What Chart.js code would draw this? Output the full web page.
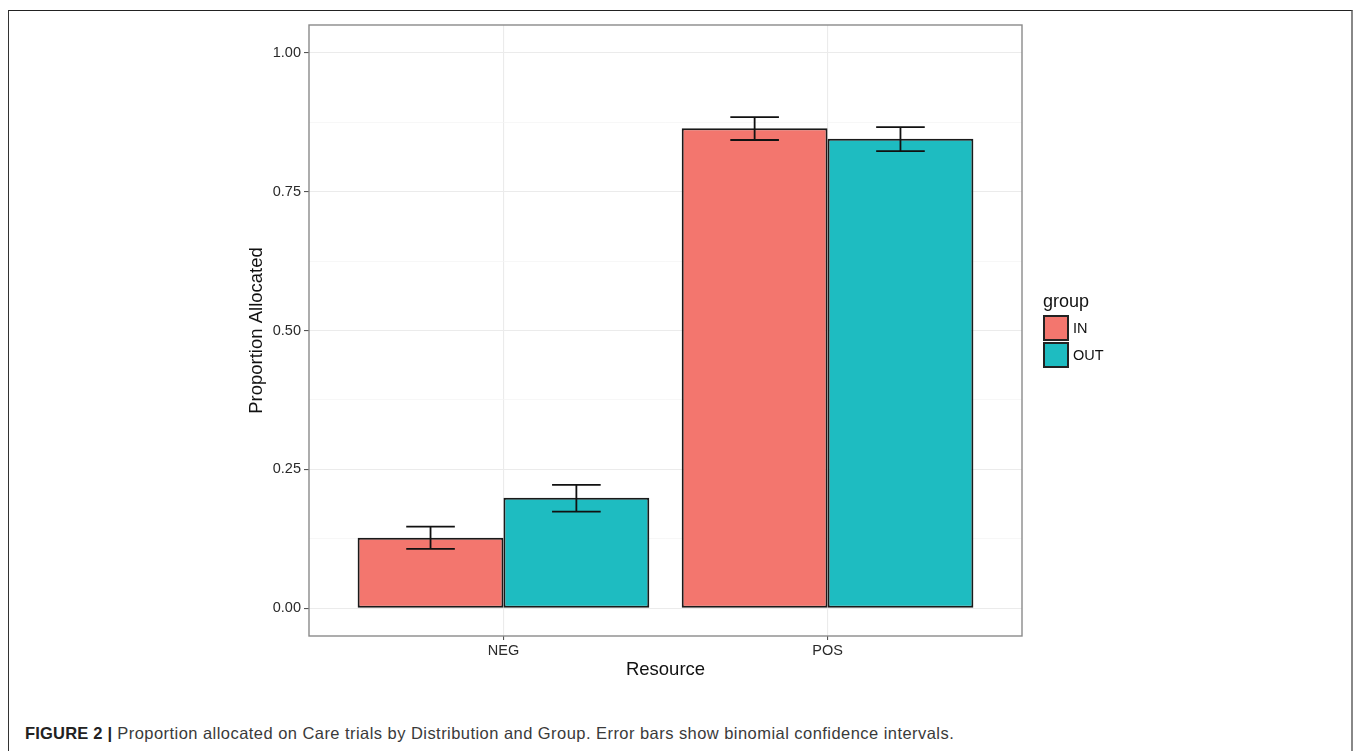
<!DOCTYPE html>
<html><head><meta charset="utf-8">
<script src="https://cdn.jsdelivr.net/npm/chart.js@4.4.0/dist/chart.umd.min.js"></script>
<style>
html,body{margin:0;padding:0;background:#fff;width:1358px;height:751px;overflow:hidden;font-family:"Liberation Sans",Arial,sans-serif;}
#frame{position:absolute;left:8px;top:10px;width:1345px;height:800px;border-top:1px solid #222;border-left:1px solid #333;border-right:2px solid #888;box-sizing:border-box;}
#wrap{position:absolute;left:0;top:0;width:1358px;height:700px;}
#legend{position:absolute;left:1043px;top:292px;color:#111;}
#legend .title{font-size:18px;line-height:18px;height:18px;margin-bottom:4px;}
#legend .item{display:flex;align-items:center;height:27px;}
#legend .key{width:26px;height:26px;box-sizing:border-box;border:2px solid #222;margin-right:4px;}
#legend .lab{font-size:14.5px;}
#caption{position:absolute;left:25px;top:725px;font-size:16.5px;line-height:16px;letter-spacing:0.45px;color:#3a3a3a;white-space:nowrap;}
#caption b{color:#222;letter-spacing:0.2px;}
</style>
</head><body>
<div id="frame"></div>
<div id="wrap"><canvas id="c" width="1358" height="700"></canvas></div>
<div id="legend"></div>
<div id="caption"><b>FIGURE 2 |</b> Proportion allocated on Care trials by Distribution and Group. Error bars show binomial confidence intervals.</div>
<script>
const categories = ['NEG', 'POS'];
const groups = ['IN', 'OUT'];
const inValues = [0.127, 0.864];
const outValues = [0.199, 0.845];
const inLower = [0.107, 0.843];
const inUpper = [0.147, 0.884];
const outLower = [0.174, 0.823];
const outUpper = [0.222, 0.866];
const yTickValues = [0, 0.125, 0.25, 0.375, 0.5, 0.625, 0.75, 0.875, 1.0];
const groupColors = ['#F3766E', '#1EBCC1'];

Chart.defaults.font.family = '"Liberation Sans", Arial, sans-serif';

const isMajor = v => Math.abs(v * 4 - Math.round(v * 4)) < 1e-6;

const errorBarPlugin = {
  id: 'errorBars',
  afterDatasetsDraw(chart) {
    const {ctx, scales: {x, y}} = chart;
    const half = Math.abs(x.getPixelForValue(1.075) - x.getPixelForValue(1));
    ctx.save();
    ctx.strokeStyle = '#111';
    ctx.lineWidth = 1.8;
    chart.data.datasets.forEach((ds, di) => {
      const meta = chart.getDatasetMeta(di);
      meta.data.forEach((bar, i) => {
        const cx = bar.x;
        const lo = y.getPixelForValue(ds.errLow[i]);
        const hi = y.getPixelForValue(ds.errHigh[i]);
        ctx.beginPath();
        ctx.moveTo(cx - half, hi); ctx.lineTo(cx + half, hi);
        ctx.moveTo(cx, hi); ctx.lineTo(cx, lo);
        ctx.moveTo(cx - half, lo); ctx.lineTo(cx + half, lo);
        ctx.stroke();
      });
    });
    ctx.restore();
  }
};

const panelBorderPlugin = {
  id: 'panelBorder',
  afterDatasetsDraw(chart) {
    const {ctx, chartArea: a} = chart;
    ctx.save();
    ctx.strokeStyle = '#8a8a8a';
    ctx.lineWidth = 1.4;
    ctx.strokeRect(a.left, a.top, a.right - a.left, a.bottom - a.top);
    ctx.restore();
  }
};

const chart = new Chart(document.getElementById('c'), {
  type: 'bar',
  data: {
    datasets: [
      {
        label: groups[0],
        data: categories.map((c, i) => ({x: i + 1, y: inValues[i]})),
        errLow: inLower, errHigh: inUpper,
        backgroundColor: groupColors[0]
      },
      {
        label: groups[1],
        data: categories.map((c, i) => ({x: i + 1, y: outValues[i]})),
        errLow: outLower, errHigh: outUpper,
        backgroundColor: groupColors[1]
      }
    ]
  },
  options: {
    responsive: false,
    animation: false,
    devicePixelRatio: 1,
    categoryPercentage: 0.9,
    barPercentage: 1.0,
    datasets: {bar: {borderColor: '#1a1a1a', borderWidth: 2, borderSkipped: false}},
    layout: {padding: {left: 0, top: 25, right: 336, bottom: 0}},
    plugins: {legend: {display: false}, tooltip: {enabled: false}},
    scales: {
      x: {
        type: 'linear',
        min: 0.4, max: 2.6,
        offset: false,
        afterBuildTicks: s => { s.ticks = categories.map((c, i) => ({value: i + 1})); },
        afterFit: s => { s.height = 64; },
        ticks: {
          autoSkip: false, maxRotation: 0, padding: 2,
          color: '#2a2a2a', font: {size: 14.5},
          callback: v => categories[Math.round(v) - 1] || ''
        },
        grid: {offset: false, color: '#EBEBEB', lineWidth: 1.1, tickLength: 4, tickColor: '#555', drawTicks: true},
        border: {display: false},
        title: {display: true, text: 'Resource', color: '#111', font: {size: 18.5}, padding: {top: 0, bottom: 19}}
      },
      y: {
        type: 'linear',
        min: -0.05, max: 1.05,
        afterBuildTicks: s => { s.ticks = yTickValues.map(v => ({value: v})); },
        afterFit: s => { s.width = 309; },
        ticks: {
          padding: 3, color: '#2a2a2a', font: {size: 14.5},
          callback: v => isMajor(v) ? v.toFixed(2) : ''
        },
        grid: {
          color: c => isMajor(c.tick.value) ? '#EBEBEB' : '#F4F4F4',
          lineWidth: c => isMajor(c.tick.value) ? 1.1 : 0.7,
          tickColor: c => isMajor(c.tick.value) ? '#555' : 'rgba(0,0,0,0)',
          tickLength: 5
        },
        border: {display: false},
        title: {display: true, text: 'Proportion Allocated', color: '#111', font: {size: 18.5}, padding: {top: 246, bottom: 0}}
      }
    }
  },
  plugins: [errorBarPlugin, panelBorderPlugin]
});

// HTML legend built from the chart's datasets
const leg = document.getElementById('legend');
let html = '<div class="title">group</div>';
chart.data.datasets.forEach(ds => {
  html += '<div class="item"><span class="key" style="background:' + ds.backgroundColor + '"></span><span class="lab">' + ds.label + '</span></div>';
});
leg.innerHTML = html;
</script>
</body></html>
